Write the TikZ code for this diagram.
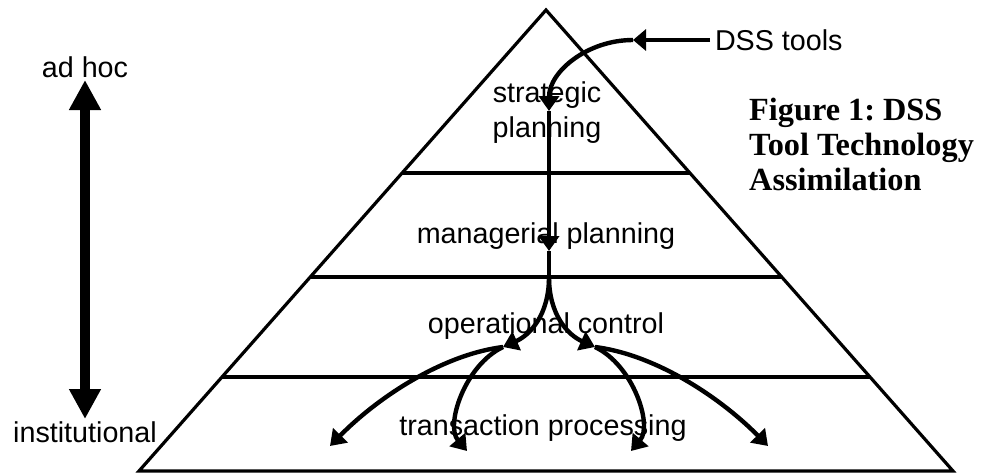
\documentclass[tikz,border=0pt]{standalone}
\usepackage{fontspec}
\setmainfont{Liberation Sans}
\newfontfamily\figfont{Liberation Serif}
\usetikzlibrary{arrows.meta,calc}
\frenchspacing
\tikzset{
  lbl/.style={anchor=base, inner sep=0pt, font=\fontsize{28.7}{34}\selectfont},
  captext/.style={anchor=base west, inner sep=0pt, font=\figfont\bfseries\fontsize{32.3}{35}\selectfont},
  pyr/.style={line width=3.2pt, line join=miter},
  flow/.style={line width=4.4pt, line cap=butt},
  arr/.style={flow, -{Triangle[length=15pt,width=20pt]}},
  bigarr/.style={line width=10pt, {Triangle[length=30pt,width=30pt]}-{Triangle[length=30pt,width=30pt]}}
}
\begin{document}
\begin{tikzpicture}[x=1pt,y=-1pt]
\useasboundingbox (0,0) rectangle (993,474);
% pyramid
\coordinate (apex) at (546,10);
\coordinate (bl) at (139,471);
\coordinate (br) at (953,471);
\draw[pyr] (bl) -- (apex) -- (br) -- cycle;
\draw[pyr] ($(apex)!0.3536!(bl)$) -- ($(apex)!0.3536!(br)$);
\draw[pyr] ($(apex)!0.5792!(bl)$) -- ($(apex)!0.5792!(br)$);
\draw[pyr] ($(apex)!0.7961!(bl)$) -- ($(apex)!0.7961!(br)$);
% level labels
\node[lbl] (s1) at (547,102) {strategic};
\node[lbl] (s2) at (547,137) {planning};
\node[lbl] (mp) at (546,243) {managerial planning};
\node[lbl] (oc) at (546,333) {operational control};
\node[lbl] (tp) at (543,435) {transaction processing};
% left scale
\node[lbl] (adhoc) at (85,77) {ad hoc};
\node[lbl] (inst) at (85,442) {institutional};
\coordinate (up) at (85,80);
\coordinate (dn) at (85,419);
\draw[bigarr] (up) -- (dn);
% caption
\node[captext] (f1) at (749,120) {Figure 1:\ DSS};
\node[captext] (f2) at (749,155) {Tool Technology};
\node[captext] (f3) at (749,190) {Assimilation};
% DSS tools flow
\node[anchor=west, inner sep=0pt, outer sep=5pt, font=\fontsize{28.7}{34}\selectfont] (dss) at (710,40) {DSS tools};
\coordinate (a1) at (633,40);
\coordinate (a2) at (549,111);
\coordinate (a3) at (549,251);
\coordinate (b0) at (549,277);
\coordinate (bl1) at (503,347);
\coordinate (br1) at (595,347);
\coordinate (t1) at (330,446);
\coordinate (t2) at (467,451);
\coordinate (t3) at (631,451);
\coordinate (t4) at (768,446);
\draw[flow, -{Triangle[length=13pt,width=21pt]}] (dss.west) -- (a1);
\draw[arr] (a1) .. controls (587,40) and (549,72) .. (a2);
\draw[arr] (a2) -- (a3);
\draw[flow] (a3) -- (b0);
\draw[arr] (b0) .. controls (549,315) and (530,335) .. (bl1);
\draw[arr] (b0) .. controls (549,315) and (568,335) .. (br1);
\draw[arr] (bl1) .. controls (440,355) and (375,400) .. (t1);
\draw[arr] (bl1) .. controls (465,365) and (445,425) .. (t2);
\draw[arr] (br1) .. controls (658,355) and (723,400) .. (t4);
\draw[arr] (br1) .. controls (633,365) and (653,425) .. (t3);
\end{tikzpicture}
\end{document}
